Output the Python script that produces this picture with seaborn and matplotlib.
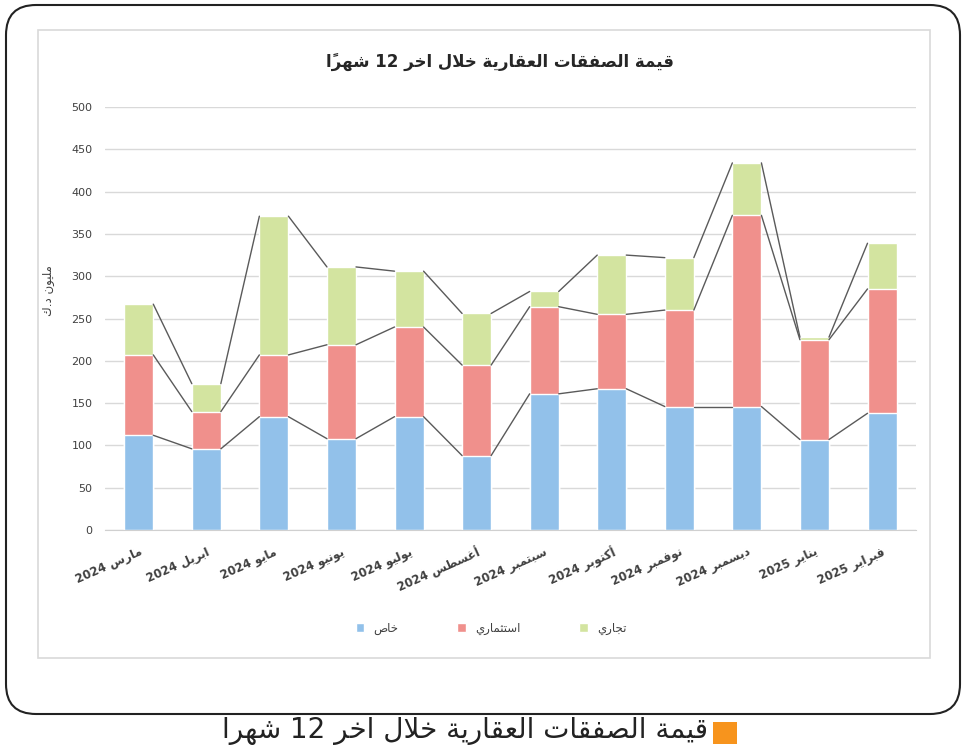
import numpy as np
import seaborn as sns
import matplotlib.pyplot as plt
from matplotlib.patches import Patch, Rectangle, FancyBboxPatch

# ---- data (million KD) ----
months = ["مارس 2024", "ابريل 2024", "مايو 2024", "يونيو 2024", "يوليو 2024", "أغسطس 2024",
          "سبتمبر 2024", "أكتوبر 2024", "نوفمبر 2024", "ديسمبر 2024", "يناير 2025", "فبراير 2025"]
private = [112, 96, 134, 108, 134, 88, 161, 167, 146, 146, 107, 138]      # خاص
investment = [95, 44, 73, 111, 106, 107, 103, 88, 114, 226, 118, 147]     # استثماري
commercial = [60, 33, 164, 92, 66, 61, 18, 70, 62, 62, 3, 54]            # تجاري
series_names = ["خاص", "استثماري", "تجاري"]
colors = ["#92C1EA", "#F0908C", "#D3E4A0"]

title = "قيمة الصفقات العقارية خلال اخر 12 شهراً"
caption = "قيمة الصفقات العقارية خلال اخر 12 شهرا"
ylabel = "مليون د.ك"

# ---- tiny Arabic shaper (matplotlib has no text shaping / bidi) ----
FORMS = {
    "ا": ("\uFE8D", "\uFE8E"), "أ": ("\uFE83", "\uFE84"), "إ": ("\uFE87", "\uFE88"), "آ": ("\uFE81", "\uFE82"),
    "ب": ("\uFE8F", "\uFE90", "\uFE91", "\uFE92"), "ة": ("\uFE93", "\uFE94"),
    "ت": ("\uFE95", "\uFE96", "\uFE97", "\uFE98"), "ث": ("\uFE99", "\uFE9A", "\uFE9B", "\uFE9C"),
    "ج": ("\uFE9D", "\uFE9E", "\uFE9F", "\uFEA0"), "ح": ("\uFEA1", "\uFEA2", "\uFEA3", "\uFEA4"),
    "خ": ("\uFEA5", "\uFEA6", "\uFEA7", "\uFEA8"), "د": ("\uFEA9", "\uFEAA"), "ذ": ("\uFEAB", "\uFEAC"),
    "ر": ("\uFEAD", "\uFEAE"), "ز": ("\uFEAF", "\uFEB0"),
    "س": ("\uFEB1", "\uFEB2", "\uFEB3", "\uFEB4"), "ش": ("\uFEB5", "\uFEB6", "\uFEB7", "\uFEB8"),
    "ص": ("\uFEB9", "\uFEBA", "\uFEBB", "\uFEBC"), "ض": ("\uFEBD", "\uFEBE", "\uFEBF", "\uFEC0"),
    "ط": ("\uFEC1", "\uFEC2", "\uFEC3", "\uFEC4"), "ظ": ("\uFEC5", "\uFEC6", "\uFEC7", "\uFEC8"),
    "ع": ("\uFEC9", "\uFECA", "\uFECB", "\uFECC"), "غ": ("\uFECD", "\uFECE", "\uFECF", "\uFED0"),
    "ف": ("\uFED1", "\uFED2", "\uFED3", "\uFED4"), "ق": ("\uFED5", "\uFED6", "\uFED7", "\uFED8"),
    "ك": ("\uFED9", "\uFEDA", "\uFEDB", "\uFEDC"), "ل": ("\uFEDD", "\uFEDE", "\uFEDF", "\uFEE0"),
    "م": ("\uFEE1", "\uFEE2", "\uFEE3", "\uFEE4"), "ن": ("\uFEE5", "\uFEE6", "\uFEE7", "\uFEE8"),
    "ه": ("\uFEE9", "\uFEEA", "\uFEEB", "\uFEEC"), "و": ("\uFEED", "\uFEEE"),
    "ي": ("\uFEF1", "\uFEF2", "\uFEF3", "\uFEF4"),
}
LAM_ALEF = {"ا": ("\uFEFB", "\uFEFC"), "أ": ("\uFEF7", "\uFEF8"),
            "إ": ("\uFEF9", "\uFEFA"), "آ": ("\uFEF5", "\uFEF6")}


def shape_word(word):
    units = []
    for ch in word:
        if "\u064B" <= ch <= "\u065F" and units:
            units[-1][1] += ch
        else:
            units.append([ch, ""])
    merged, i = [], 0
    while i < len(units):
        if units[i][0] == "ل" and i + 1 < len(units) and units[i + 1][0] in LAM_ALEF:
            merged.append(["LA" + units[i + 1][0], units[i][1] + units[i + 1][1]])
            i += 2
        else:
            merged.append(units[i])
            i += 1

    def joining(c):
        return c in FORMS or c.startswith("LA")

    def dual(c):
        return c in FORMS and len(FORMS[c]) == 4

    out = []
    for i, (ch, mk) in enumerate(merged):
        prev = merged[i - 1][0] if i > 0 else None
        nxt = merged[i + 1][0] if i + 1 < len(merged) else None
        jp = prev is not None and dual(prev) and joining(ch)
        jn = nxt is not None and dual(ch) and joining(nxt)
        if ch.startswith("LA"):
            g = LAM_ALEF[ch[2]][1 if jp else 0]
        elif ch in FORMS:
            f = FORMS[ch]
            if jp and jn:
                g = f[3]
            elif jn:
                g = f[2]
            elif jp:
                g = f[1]
            else:
                g = f[0]
        else:
            g = ch
        out.append(g + mk)
    return "".join(reversed(out))


def ar(text):
    words = text.split(" ")
    vis = []
    for w in reversed(words):
        if any("\u0600" <= c <= "\u06FF" for c in w):
            vis.append(shape_word(w))
        else:
            vis.append(w)
    return " ".join(vis)


# ---- figure ----
sns.set_style("white")
plt.rcParams["font.family"] = ["DejaVu Sans"]

fig = plt.figure(figsize=(9.63, 7.46), dpi=100)
ax = fig.add_axes([0.109, 0.2895, 0.842, 0.567])

labels = [ar(m) for m in months]
lvl1 = np.array(private)
lvl2 = lvl1 + np.array(investment)
lvl3 = lvl2 + np.array(commercial)

w = 0.43
for vals, c in zip([lvl3, lvl2, lvl1], colors[::-1]):
    sns.barplot(x=labels, y=vals, color=c, saturation=1, width=w, ax=ax, order=labels)

# Excel-style series lines between bar tops
xs = np.arange(len(months))
for lvl in [lvl1, lvl2, lvl3]:
    for i in range(len(months) - 1):
        ax.plot([xs[i] + w / 2, xs[i + 1] - w / 2], [lvl[i], lvl[i + 1]],
                color="#5a5a5a", lw=1)

ax.set_ylim(0, 500)
ax.set_xlim(-0.5, len(months) - 0.5)
ax.set_yticks(range(0, 501, 50))
ax.yaxis.grid(True, color="#d9d9d9", lw=1)
ax.set_axisbelow(True)
for s in ["top", "right", "left"]:
    ax.spines[s].set_visible(False)
ax.spines["bottom"].set_color("#d0d0d0")
ax.tick_params(axis="y", length=0, pad=9, labelsize=8, labelcolor="#404040")
ax.tick_params(axis="x", length=0, pad=11, labelsize=8.5, labelcolor="#404040")
ax.set_xticks(xs)
ax.set_xticklabels(labels, rotation=24, ha="right", rotation_mode="anchor", fontweight="bold")
ax.set_xlabel("")
ax.set_ylabel("")

fig.text(0.519, 0.917, ar(title), ha="center", va="center", fontsize=12,
         fontweight="bold", color="#262626")
fig.text(0.050, 0.61, ar(ylabel), rotation=90, ha="center", va="center",
         fontsize=8.5, color="#404040")

handles = [Patch(facecolor=c, label=ar(n)) for c, n in zip(colors, series_names)]
fig.legend(handles=handles, loc="center", bbox_to_anchor=(0.51, 0.158), ncol=3,
           frameon=False, fontsize=8.5, handlelength=0.7, handleheight=0.7,
           columnspacing=5, handletextpad=0.8, labelcolor="#404040")

# chart area border and outer rounded frame
fig.patches.append(Rectangle((0.38, 0.88), 8.92, 6.28, transform=fig.dpi_scale_trans,
                             fill=False, edgecolor="#d9d9d9", lw=1.2))
fig.patches.append(FancyBboxPatch((0.06, 0.32), 9.54, 7.09, transform=fig.dpi_scale_trans,
                                  boxstyle="round,pad=0,rounding_size=0.3",
                                  fill=False, edgecolor="#222222", lw=1.5))

# caption with orange square
fig.text(0.735, 0.02, ar(caption), ha="right", va="center", fontsize=20, color="#222222")
fig.patches.append(Rectangle((7.13, 0.02), 0.24, 0.22, transform=fig.dpi_scale_trans,
                             facecolor="#F7941D", edgecolor="none"))

fig.savefig("out.png", dpi=100)
